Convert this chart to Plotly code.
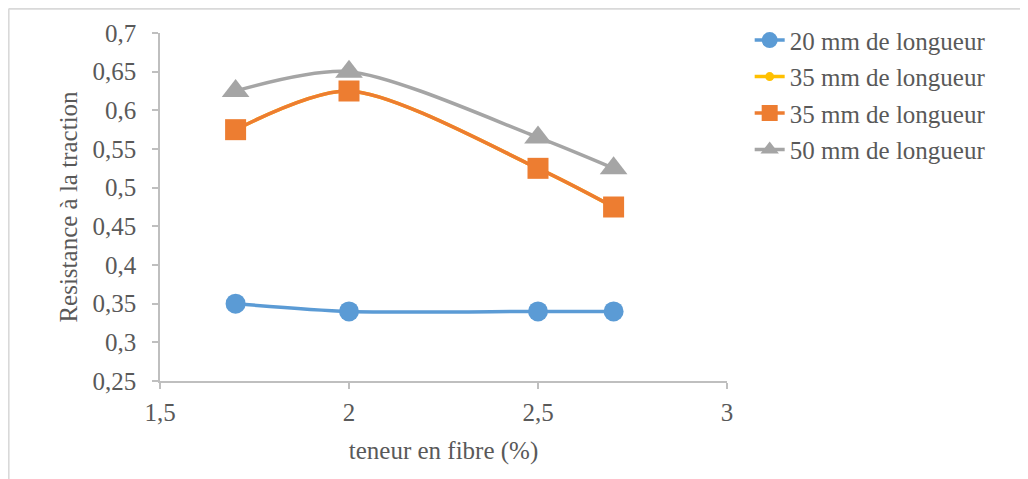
import plotly.graph_objects as go

# teneur en fibre (%)
fibre = [1.7, 2, 2.5, 2.7]

res_20mm = [0.35, 0.34, 0.34, 0.34]
res_35mm_a = [0.575, 0.625, 0.525, 0.475]   # hidden under the orange series
res_35mm_b = [0.575, 0.625, 0.525, 0.475]
res_50mm = [0.625, 0.65, 0.565, 0.525]

names = ["20 mm de longueur", "35 mm de longueur", "35 mm de longueur", "50 mm de longueur"]

font = "Liberation Serif"
txt = "#595959"
fs = 25

fig = go.Figure()

fig.add_trace(go.Scatter(
    x=fibre, y=res_20mm, name=names[0], mode="lines+markers", legendgroup="a",
    line=dict(color="#5B9BD5", width=3.5, shape="spline", smoothing=0.8),
    marker=dict(symbol="circle", size=20, color="#5B9BD5")
))
fig.add_trace(go.Scatter(
    x=fibre, y=res_35mm_a, name=names[1], mode="lines+markers", legendgroup="b",
    line=dict(color="#FFC000", width=3.5, shape="spline", smoothing=0.8),
    marker=dict(symbol="circle", size=9, color="#FFC000")
))
fig.add_trace(go.Scatter(
    x=fibre, y=res_35mm_b, name=names[2], mode="lines+markers", legendgroup="c",
    line=dict(color="#ED7D31", width=3.5, shape="spline", smoothing=0.8),
    marker=dict(symbol="square", size=21, color="#ED7D31")
))
fig.add_trace(go.Scatter(
    x=fibre, y=res_50mm, name=names[3], mode="lines+markers", legendgroup="d",
    line=dict(color="#A5A5A5", width=3.5, shape="spline", smoothing=0.8),
    marker=dict(symbol="triangle-up", size=24, color="#A5A5A5")
))

axis_style = dict(
    showgrid=False, zeroline=False, showline=True, linecolor="#BFBFBF", linewidth=1.5,
    ticks="outside", ticklen=6, tickcolor="#BFBFBF", tickwidth=1.5,
    tickfont=dict(family=font, size=fs, color=txt),
)

fig.update_xaxes(
    range=[1.5, 3], dtick=0.5, tick0=1.5, ticklabelstandoff=2,
    title=dict(text="teneur en fibre (%)", font=dict(family=font, size=fs, color=txt), standoff=17),
    **axis_style
)
fig.update_yaxes(
    range=[0.25, 0.7], dtick=0.05, tick0=0.25, ticklabelstandoff=11,
    title=dict(text="Resistance à la traction", font=dict(family=font, size=fs, color=txt), standoff=8),
    **axis_style
)

# chart frame (left and top edges only)
fig.add_shape(type="line", xref="paper", yref="paper", x0=-0.267, x1=1.6, y0=1.07, y1=1.07,
              line=dict(color="#D9D9D9", width=2))
fig.add_shape(type="line", xref="paper", yref="paper", x0=-0.267, x1=-0.267, y0=1.07, y1=-0.32,
              line=dict(color="#D9D9D9", width=2))

fig.update_layout(
    width=1028, height=479,
    margin=dict(l=152, r=309, t=25, b=106, autoexpand=False),
    plot_bgcolor="white", paper_bgcolor="white",
    separators=", ",
    font=dict(family=font, color=txt),
    legend=dict(
        x=1.04, y=1.045, xanchor="left", yanchor="top",
        font=dict(family=font, size=fs, color=txt),
        tracegroupgap=1,
    ),
)

fig.write_html("out.html")
